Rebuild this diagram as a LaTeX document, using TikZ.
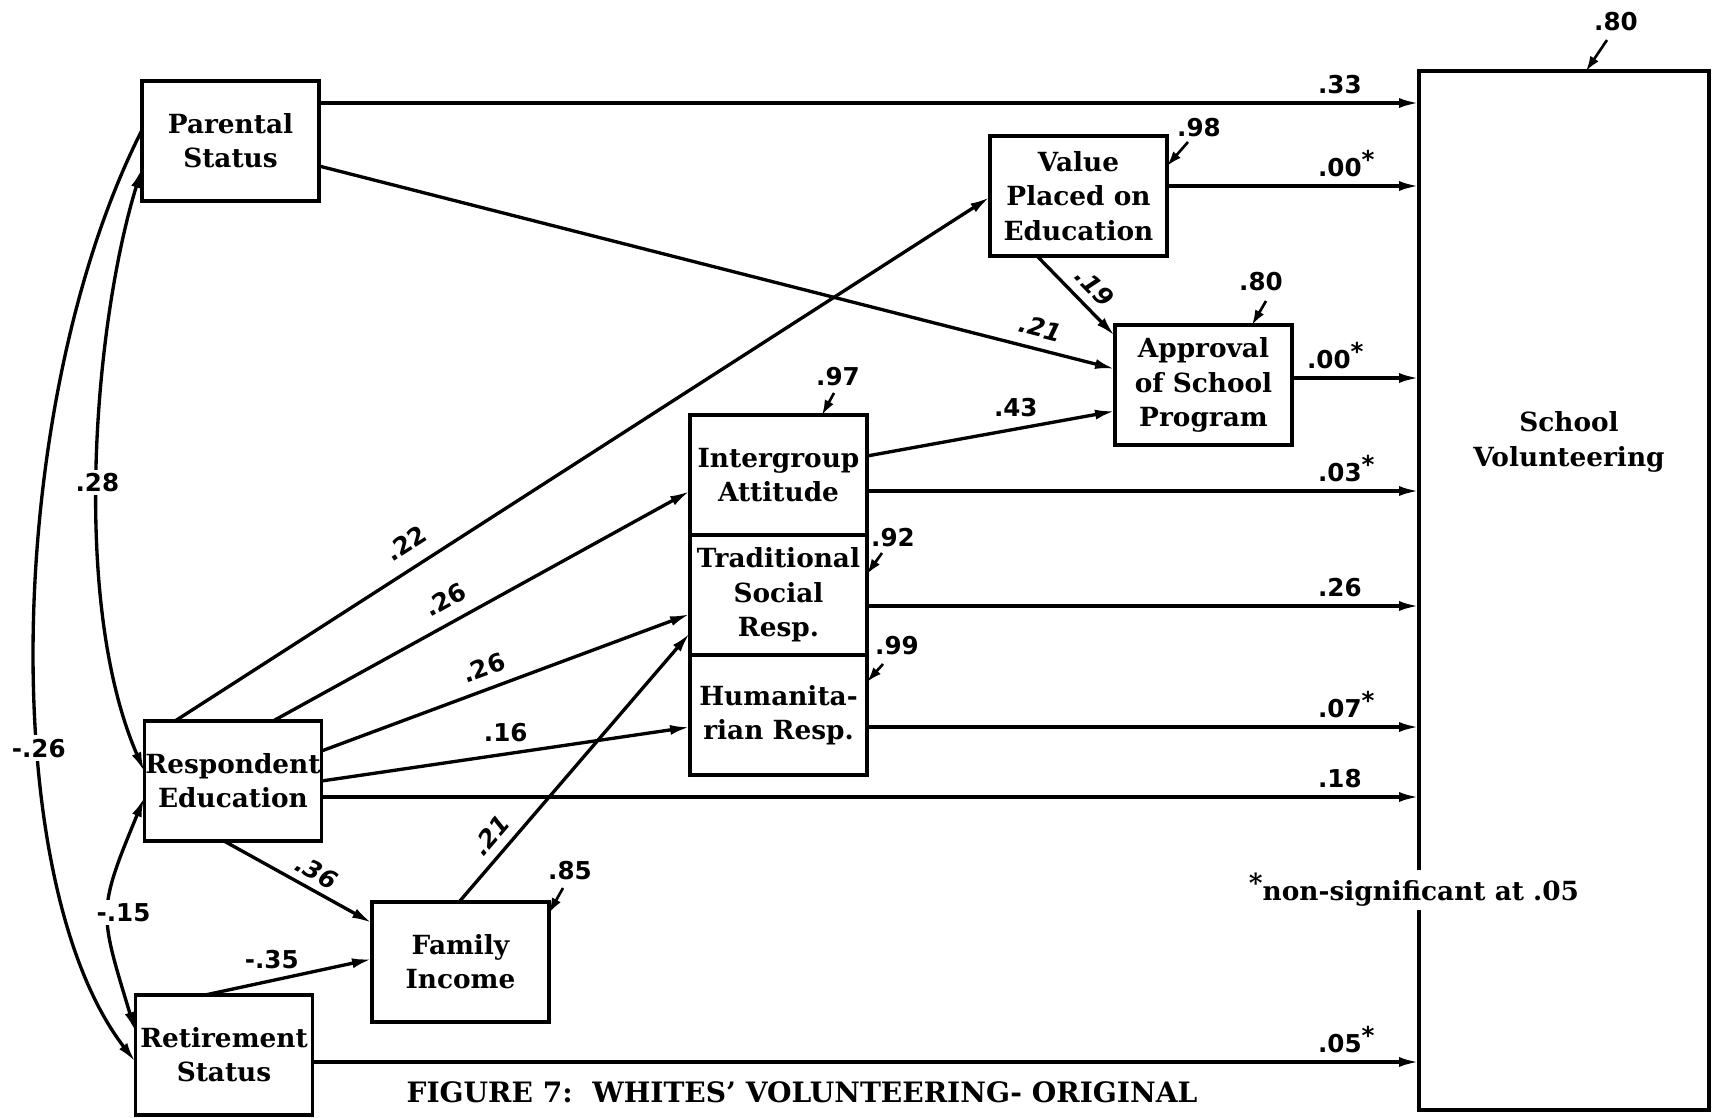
\documentclass[tikz,border=0pt]{standalone}
\usepackage{fontspec}
\setmainfont{DejaVu Serif}
\newfontfamily\coeffamily{DejaVu Sans}
\usetikzlibrary{arrows.meta, positioning}

\newcommand\boxfont{\fontsize{15}{19.5}\selectfont\bfseries}
\newcommand\capfont{\fontsize{16}{19.5}\selectfont\bfseries}
\newcommand\coeffont{\coeffamily\fontsize{14}{16}\selectfont\bfseries}
\newcommand\nsig{\raisebox{0.3em}{*}}

\tikzset{
  varbox/.style={draw, line width=1.9pt, outer sep=0pt, inner sep=0pt,
    minimum width=3.54cm, minimum height=2.4cm, align=center, font=\boxfont},
  effect/.style={line width=1.9pt, -{Latex[length=0.4cm, width=0.2cm]}},
  corr/.style={line width=1.9pt, {Latex[length=0.4cm, width=0.2cm]}-{Latex[length=0.4cm, width=0.2cm]}},
  resid/.style={line width=1.5pt, -{Latex[length=0.3cm, width=0.2cm]}},
  coef/.style={font=\coeffont, inner sep=1pt},
  coefit/.style={font=\coeffont\itshape, inner sep=1pt},
  gapcoef/.style={coef, fill=white, inner sep=2pt}
}

\begin{document}
\begin{tikzpicture}[x=0.02cm, y=-0.02cm]
    \useasboundingbox (0,0) rectangle (1712,1117);

    % 1. The variable boxes
    \node[varbox] (ps) at (230.5,141) {Parental\\Status};
    \node[varbox] (re) at (233,781) {Respondent\\Education};
    \node[varbox] (rs) at (224,1055) {Retirement\\Status};
    \node[varbox] (fi) at (460.5,962) {Family\\Income};
    \node[varbox] (ia) at (778.5,475) {Intergroup\\Attitude};
    \node[varbox, below=0pt of ia] (ts) {Traditional\\Social\\Resp.};
    \node[varbox, below=0pt of ts] (hr) {Humanita-\\rian Resp.};
    \node[varbox] (ve) at (1078.5,196) {Value\\Placed on\\Education};
    \node[varbox] (ap) at (1203.5,385) {Approval\\of School\\Program};

    % 2. The dependent variable (tall box)
    \node[draw, line width=1.9pt, outer sep=0pt, minimum width=5.8cm, minimum height=20.78cm] (sv) at (1564,590.5) {};
    \node[font=\boxfont, align=center] (svname) at (1569,442) {School\\Volunteering};
    \node[font=\boxfont, fill=white, inner sep=2pt] (note) at (1414,890) {\nsig non-significant at .05};

    % 3. Direct paths into School Volunteering
    \foreach \src/\yy/\lx/\lab in {ps/103/1316/{.33}, ve/186/1316/{.00\nsig}, ap/378/1305/{.00\nsig},
        ia/491/1316/{.03\nsig}, ts/606/1316/{.26}, hr/727/1316/{.07\nsig}, re/797/1316/{.18}, rs/1062/1316/{.05\nsig}} {
        \draw[effect] (\src.east |- 0,\yy) -- (sv.west |- 0,\yy);
        \node[coef, anchor=base west] (c\src) at (\lx,\yy-10) {\lab};
    }

    % 4. Paths between the other variables
    \draw[effect] (ps.east |- 0,166) -- (ap.west |- 0,369)
        node[coefit, sloped, above=5pt, pos=0.9] (k21a) {.21};
    \draw[effect] (ve.south -| 1037,0) -- (ap.west |- 0,336)
        node[coefit, sloped, above=4pt, pos=0.56] (k19) {.19};
    \draw[effect] (ia.east |- 0,456) -- (ap.west |- 0,411)
        node[coef, above=5pt, pos=0.6] (k43) {.43};
    \draw[effect] (re.north -| 175,0) -- (ve.west |- 0,197)
        node[coef, sloped, above=7pt, pos=0.3] (k22) {.22};
    \draw[effect] (re.north -| 273,0) -- (ia.west |- 0,491)
        node[coef, sloped, above=6pt, pos=0.44] (k26a) {.26};
    \draw[effect] (re.east |- 0,751) -- (ts.west |- 0,614)
        node[coef, sloped, above=5pt, pos=0.46] (k26b) {.26};
    \draw[effect] (re.east |- 0,781) -- (hr.west |- 0,727)
        node[coef, above=5pt, pos=0.5] (k16) {.16};
    \draw[effect] (fi.north -| 459,0) -- (ts.west |- 0,633)
        node[coefit, sloped, above=4pt, pos=0.2] (k21b) {.21};
    \draw[effect] (re.south -| 224,0) -- (fi.west |- 0,923)
        node[coefit, sloped, above=3pt, pos=0.57] (k36) {.36};
    \draw[effect] (rs.north -| 205,0) -- (fi.west |- 0,959)
        node[coef, above=5pt, pos=0.4] (k35) {-.35};

    % 5. Correlations among the exogenous variables
    \draw[corr] (ps.west |- 0,168) .. controls (95,320) and (70,600) .. (re.west |- 0,772)
        node[gapcoef, pos=0.53] (k28) {.28};
    \draw[effect] (ps.west |- 0,130) .. controls (5,400) and (-5,880) .. (rs.west |- 0,1062)
        node[gapcoef, pos=0.615] (k26c) {-.26};
    \draw[corr] (re.west |- 0,797) .. controls (97,912) and (99,911) .. (rs.west |- 0,1032)
        node[gapcoef, pos=0.5, xshift=0.3cm] (k15) {-.15};

    % 6. Residual paths
    \foreach \id/\val/\lx/\ly/\ex/\ey/\tgt in {ve/98/1199/128/1188/142/{ve.east |- 0,166},
        ap/80/1261/282/1266/301/{ap.north -| 1252,0}, ia/97/838/377/834/393/{ia.north -| 822,0},
        ts/92/893/538/882/553/{ts.east |- 0,574}, hr/99/897/646/883/664/{hr.east |- 0,682},
        fi/85/570/871/563/888/{fi.east |- 0,913}, sv/80/1616/22/1607/40/{sv.north -| 1586,0}} {
        \coordinate (e\id) at (\ex,\ey);
        \node[coef] (r\id) at (\lx,\ly) {.\val};
        \draw[resid] (e\id) -- (\tgt);
    }

    % 7. Caption
    \node[font=\capfont] (caption) at (802,1092) {FIGURE 7:\ \ WHITES' VOLUNTEERING- ORIGINAL};
\end{tikzpicture}
\end{document}
